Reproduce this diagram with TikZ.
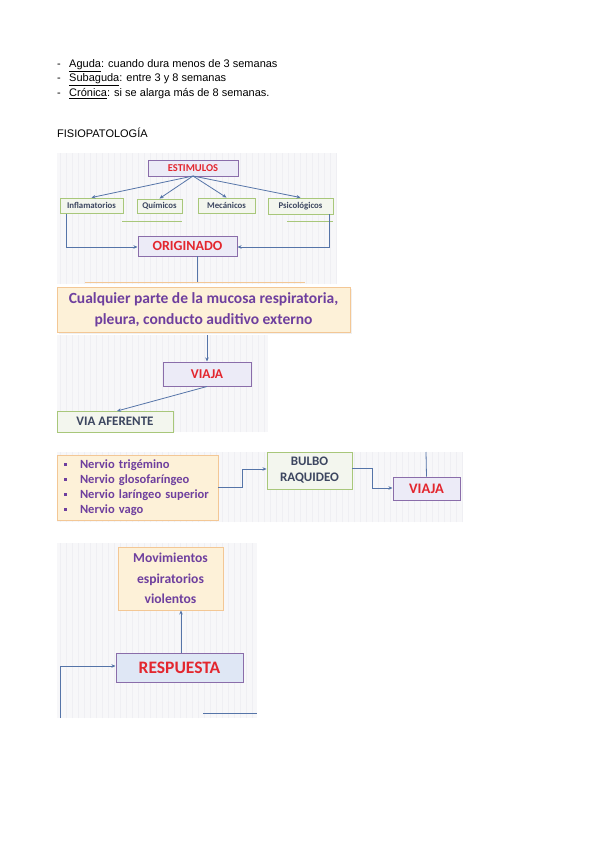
\documentclass[tikz,border=0pt]{standalone}
\usepackage{fontspec}
\setmainfont{Liberation Sans}
\newfontfamily\dgfont{Carlito}
\usetikzlibrary{arrows.meta}
\definecolor{arrc}{HTML}{5574A8}
\definecolor{purpb}{HTML}{8A6DAA}
\definecolor{greenb}{HTML}{A8C77A}
\definecolor{orangeb}{HTML}{F3C795}
\definecolor{creamf}{HTML}{FDF1D8}
\definecolor{lavf}{HTML}{ECEBF7}
\definecolor{bluef}{HTML}{DFE7F5}
\definecolor{greenf}{HTML}{F3F6EE}
\definecolor{redt}{HTML}{E3262E}
\definecolor{purpt}{HTML}{6E3F9E}
\definecolor{darkt}{HTML}{3C4660}
\definecolor{bgf}{HTML}{F7F7F9}
\definecolor{gridc}{HTML}{EFEFF3}
\tikzset{
  bgpanel/.style={fill=bgf,draw=none},
  gridl/.style={draw=gridc,line width=0.25pt},
  pbox/.style={draw=purpb,line width=1pt,fill=lavf,inner sep=0pt,font=\dgfont\bfseries,text=redt},
  gbox/.style={draw=greenb,line width=0.9pt,fill=greenf,inner sep=0pt,font=\dgfont\bfseries,text=darkt},
  obox/.style={draw=orangeb,line width=0.9pt,fill=creamf,inner sep=0pt,font=\dgfont\bfseries,text=purpt},
  arr/.style={draw=arrc,line width=0.8pt,-{Stealth[length=4pt,width=3.5pt]}},
  ln/.style={draw=arrc,line width=0.8pt},
  body/.style={anchor=base west,inner sep=0pt,font=\fontsize{11}{13}\selectfont}
}
\begin{document}
\begin{tikzpicture}[x=1pt,y=-1pt]
\useasboundingbox[fill=white] (0,0) rectangle (599,848);
% text
\node[body] (d1) at (57,68) {-};
\node[body] (t1) at (69,68) {\underline{Aguda}: cuando dura menos de 3 semanas};
\node[body] (d2) at (57,82) {-};
\node[body] (t2) at (69,82) {\underline{Subaguda}: entre 3 y 8 semanas};
\node[body] (d3) at (57,97) {-};
\node[body] (t3) at (69,97) {\underline{Crónica}: si se alarga más de 8 semanas.};
\node[body] (fis) at (57,137) {FISIOPATOLOGÍA};
% background panels
\fill[bgpanel] (57,153) rectangle (336,284);
\draw[gridl,step=6] (57,153) grid (336,284);
\fill[bgpanel] (57,335) rectangle (268,432);
\draw[gridl,step=6] (57,335) grid (268,432);
\fill[bgpanel] (57,452) rectangle (463,522);
\draw[gridl,step=6] (57,452) grid (463,522);
\fill[bgpanel] (57,543) rectangle (257,718);
\draw[gridl,step=6] (57,543) grid (257,718);
% panel 1
\node[pbox,minimum width=90pt,minimum height=16pt,font=\dgfont\bfseries\fontsize{10.5}{11}\selectfont] (est) at (193,168) {ESTIMULOS};
\node[gbox,minimum width=63pt,minimum height=15pt,font=\dgfont\bfseries\fontsize{8.8}{9}\selectfont] (infl) at (91.5,205.5) {Inflamatorios};
\node[gbox,minimum width=45pt,minimum height=14pt,font=\dgfont\bfseries\fontsize{8.8}{9}\selectfont] (quim) at (159.5,206) {Químicos};
\node[gbox,minimum width=57pt,minimum height=15pt,font=\dgfont\bfseries\fontsize{8.8}{9}\selectfont] (mec) at (226.5,205.5) {Mecánicos};
\node[gbox,minimum width=65pt,minimum height=16pt,font=\dgfont\bfseries\fontsize{8.8}{9}\selectfont] (psic) at (300.5,206) {Psicológicos};
\coordinate (eb) at (193,176);
\draw[arr] (eb) -- (infl.north);
\draw[arr] (eb) -- (quim.north);
\draw[arr] (eb) -- (mec.north);
\draw[arr] (eb) -- (psic.north);
\draw[greenb,line width=0.6pt] (122,221) -- (182,221);
\draw[greenb,line width=0.6pt] (287,221) -- (333,221);
\node[pbox,minimum width=99pt,minimum height=20pt,font=\dgfont\bfseries\fontsize{14}{15}\selectfont] (orig) at (187.5,246) {ORIGINADO};
\coordinate (il) at (66,213.5);
\coordinate (pr) at (329,214);
\draw[arr] (il) -- (66,247) -- (orig.west |- 66,247);
\draw[arr] (pr) -- (329,247) -- (orig.east |- 329,247);
\coordinate (ob) at (197,256);
\coordinate (oe) at (197,283);
\draw[ln] (ob) -- (oe);
\draw[orangeb,line width=0.9pt] (85,282.5) -- (305,282.5);
% panel 2
\fill[gray!12] (59,289) rectangle (352,334);
\node[obox,minimum width=293pt,minimum height=45pt,align=center,font=\dgfont\bfseries\fontsize{15.5}{21}\selectfont] (cual) at (203.5,309.5) {Cualquier parte de la mucosa respiratoria,\\pleura, conducto auditivo externo};
% panel 3
\node[pbox,minimum width=88pt,minimum height=24pt,font=\dgfont\bfseries\fontsize{13.5}{14}\selectfont] (via1) at (207,374) {VIAJA};
\coordinate (ct) at (207,335);
\draw[arr] (ct) -- (via1.north);
\node[gbox,minimum width=116pt,minimum height=21pt,font=\dgfont\bfseries\fontsize{13}{14}\selectfont] (vaf) at (115,421.5) {VIA AFERENTE};
\draw[arr] (via1.south) -- (117,411);
% panel 4
\node[obox,minimum width=161pt,minimum height=65pt,text width=147pt,inner xsep=7pt,align=left,font=\dgfont\bfseries\fontsize{12.5}{15}\selectfont] (nerv) at (137.5,487.5) {%
\rule[2.5pt]{3pt}{3pt}\hspace{13pt}Nervio trigémino\\
\rule[2.5pt]{3pt}{3pt}\hspace{13pt}Nervio glosofaríngeo\\
\rule[2.5pt]{3pt}{3pt}\hspace{13pt}Nervio laríngeo superior\\
\rule[2.5pt]{3pt}{3pt}\hspace{13pt}Nervio vago};
\node[gbox,minimum width=85pt,minimum height=37pt,align=center,font=\dgfont\bfseries\fontsize{13}{16}\selectfont] (bul) at (309.5,470.5) {BULBO\\RAQUIDEO};
\node[pbox,minimum width=67pt,minimum height=23pt,font=\dgfont\bfseries\fontsize{14.5}{15}\selectfont] (via2) at (426.5,488.5) {VIAJA};
\draw[arr] (nerv.east |- 0,487) -- (242,487) -- (242,469) -- (bul.west |- 0,469);
\draw[arr] (bul.east |- 0,468) -- (372,468) -- (372,488) -- (via2.west |- 0,488);
\coordinate (vt) at (426,452);
\draw[ln] (vt) -- (via2.north);
% panel 5
\node[obox,minimum width=105pt,minimum height=63pt,align=center,font=\dgfont\bfseries\fontsize{13.6}{20.5}\selectfont] (mov) at (170.5,578.5) {Movimientos\\espiratorios\\violentos};
\node[pbox,fill=bluef,minimum width=127pt,minimum height=29pt,font=\dgfont\bfseries\fontsize{17.5}{18}\selectfont] (resp) at (179.5,667.5) {RESPUESTA};
\draw[arr] (resp.north -| 181,0) -- (mov.south -| 181,0);
\coordinate (lb) at (60,718);
\draw[arr] (lb) -- (60,666) -- (resp.west |- 0,666);
\coordinate (rb1) at (203,713.5);
\coordinate (rb2) at (257,713.5);
\draw[ln,line width=1.2pt] (rb1) -- (rb2);
\end{tikzpicture}
\end{document}
